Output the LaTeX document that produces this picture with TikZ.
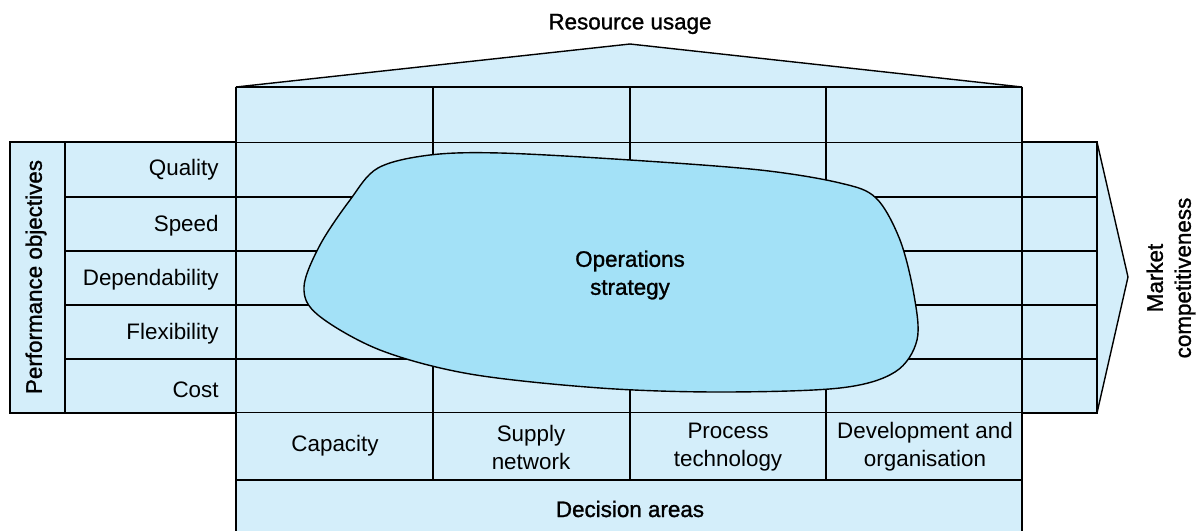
\documentclass[tikz,border=0pt]{standalone}
\usepackage{fontspec}
\setmainfont{Liberation Sans}
\newfontfamily\headfont[FakeBold=1.2]{Liberation Sans}
\begin{document}
\begin{tikzpicture}[x=0.5pt,y=-0.5pt,
  panel/.style={fill=paleblue,draw=black,line width=0.7pt},
  gridline/.style={draw=black,line width=0.7pt},
  lbl/.style={inner sep=0pt,font=\fontsize{11.2}{14}\selectfont,text=black},
  head/.style={lbl,font=\fontsize{11.2}{14}\headfont},
  rowlbl/.style={lbl,anchor=east},
  stack/.style={lbl,align=center}]
\definecolor{paleblue}{RGB}{212,238,250}
\definecolor{blobblue}{RGB}{163,225,247}
\useasboundingbox (0,0) rectangle (1196,531);

% performance objectives band with the arrow to the right
\fill[paleblue] (10,142) rectangle (1097,413);
\filldraw[panel,line join=miter] (1097,142) -- (1128,277) -- (1097,413);
\draw[gridline] (10,142) rectangle (1097,413);
\foreach \yy in {197,251,305,359} \draw[gridline] (65,\yy) -- (1097,\yy);
\draw[gridline] (65,142) -- (65,413);

% resource usage roof and upper columns
\filldraw[panel,line join=miter] (236,87) -- (630,44) -- (1022,87) -- cycle;
\fill[paleblue] (236,87) rectangle (1022,142);
\draw[gridline] (236,87) -- (1022,87);

% decision areas underneath
\fill[paleblue] (236,413) rectangle (1022,531);
\draw[gridline] (236,480) -- (1022,480);

% column lines
\draw[gridline] (236,87) -- (236,531);
\draw[gridline] (1022,87) -- (1022,531);
\foreach \xx in {433,630,826} \draw[gridline] (\xx,87) -- (\xx,480);

% operations strategy blob
\filldraw[fill=blobblue,draw=black,line width=0.7pt]
  plot[smooth cycle,tension=0.55] coordinates {
    (304,287) (320,245) (350,200) (378,168) (430,155) (500,153)
    (630,160) (760,170) (840,183) (876,198) (900,240) (914,295)
    (917,340) (895,372) (840,388) (720,392) (600,388) (470,374)
    (380,350) (318,315)};

% labels
\node[head] (res) at (630,24) {Resource usage};
\node[head,rotate=90] (perf) at (36,277) {Performance objectives};
\node[rowlbl] (quality) at (219,170) {Quality};
\node[rowlbl] (speed) at (219,226) {Speed};
\node[rowlbl] (dep) at (219,280) {Dependability};
\node[rowlbl] (flex) at (219,334) {Flexibility};
\node[rowlbl] (cost) at (219,390) {Cost};
\node[head,align=center] (ops) at (630,275) {Operations\\strategy};
\node[head,align=center,rotate=90] (market) at (1171,278) {Market\\competitiveness};
\node[lbl] (cap) at (335,446) {Capacity};
\node[stack] (supply) at (531,447) {Supply\\network};
\node[stack] (proc) at (728,447) {Process\\technology};
\node[stack] (dev) at (925,447) {Development and\\organisation};
\node[head] (dec) at (630,509) {Decision areas};
\end{tikzpicture}
\end{document}
